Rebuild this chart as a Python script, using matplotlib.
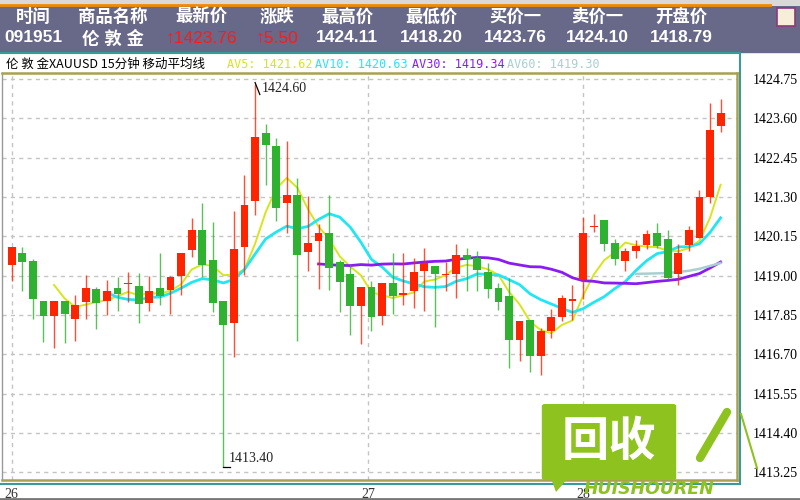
"""
伦敦金 XAUUSD 15分钟 K线 + 移动平均线 (recreated screenshot).
"""
import matplotlib
matplotlib.use('Agg')
import numpy as np
import pandas as pd
import matplotlib.pyplot as plt
from matplotlib.patches import Rectangle, FancyBboxPatch, Polygon
from matplotlib.lines import Line2D

CJK = ['Noto Sans CJK SC', 'DejaVu Sans']

# header quote table
HEAD_LABELS = ['时间', '商品名称', '最新价', '涨跌', '最高价', '最低价', '买价一', '卖价一', '开盘价']
HEAD_VALUES = ['091951', '伦 敦 金', '↑1423.76', '↑5.50', '1424.11', '1418.20', '1423.76', '1424.10', '1418.79']
HEAD_RED = [False, False, True, True, False, False, False, False, False]

# 15-minute candles
OPEN = [1419.30, 1419.66, 1419.43, 1418.26, 1417.82, 1418.26, 1417.74, 1418.24, 1418.60, 1418.26,
        1418.63, 1418.75, 1418.71, 1418.19, 1418.63, 1418.58, 1418.99, 1419.75, 1420.34, 1419.46,
        1418.26, 1417.61, 1419.85, 1421.19, 1423.17, 1422.80, 1421.12, 1421.37, 1419.68, 1420.02,
        1420.26, 1419.39, 1419.04, 1418.10, 1418.68, 1417.83, 1418.78, 1418.42, 1418.54, 1419.14,
        1419.27, 1419.02, 1419.04, 1419.61, 1419.53, 1419.12, 1418.63, 1418.39, 1417.12, 1417.69,
        1416.65, 1417.37, 1417.78, 1418.27, 1418.88, 1420.42, 1420.63, 1419.95, 1419.43, 1419.71,
        1419.90, 1420.26, 1420.08, 1419.04, 1419.90, 1420.10, 1421.30, 1423.38]
HIGH = [1419.85, 1419.85, 1419.48, 1418.26, 1418.26, 1418.26, 1418.42, 1419.02, 1418.68, 1418.88,
        1418.95, 1419.12, 1419.09, 1418.99, 1419.66, 1418.99, 1419.66, 1420.68, 1421.14, 1420.58,
        1418.26, 1420.88, 1421.95, 1424.60, 1423.43, 1423.02, 1422.95, 1421.85, 1421.32, 1420.51,
        1421.37, 1419.46, 1419.31, 1418.68, 1418.83, 1418.78, 1419.66, 1419.66, 1419.53, 1419.82,
        1419.27, 1419.41, 1419.92, 1419.80, 1419.73, 1419.37, 1418.78, 1418.93, 1417.66, 1417.69,
        1417.48, 1418.03, 1418.42, 1418.72, 1420.71, 1420.80, 1420.63, 1420.07, 1419.82, 1420.03,
        1420.34, 1420.54, 1420.34, 1419.92, 1420.44, 1421.51, 1424.05, 1424.17]
LOW = [1418.83, 1418.56, 1417.74, 1417.05, 1416.88, 1417.02, 1417.09, 1417.74, 1417.44, 1417.85,
       1417.97, 1418.24, 1417.61, 1417.97, 1418.15, 1417.87, 1418.42, 1419.56, 1418.97, 1417.93,
       1413.40, 1416.63, 1419.02, 1420.78, 1421.64, 1420.61, 1420.24, 1417.10, 1419.14, 1418.61,
       1418.58, 1417.93, 1417.25, 1416.99, 1417.39, 1417.56, 1417.87, 1418.15, 1418.05, 1417.97,
       1417.51, 1418.56, 1418.36, 1418.56, 1418.54, 1418.36, 1418.00, 1416.29, 1416.49, 1416.17,
       1416.10, 1417.17, 1417.66, 1417.71, 1418.32, 1420.29, 1419.71, 1419.30, 1419.14, 1419.53,
       1419.78, 1419.80, 1418.91, 1418.73, 1419.71, 1420.10, 1421.12, 1423.20]
CLOSE = [1419.85, 1419.39, 1418.31, 1417.82, 1418.26, 1417.88, 1418.15, 1418.65, 1418.19, 1418.55,
         1418.46, 1418.77, 1418.16, 1418.55, 1418.39, 1418.95, 1419.66, 1420.34, 1419.30, 1418.19,
         1417.56, 1419.78, 1421.07, 1423.07, 1422.81, 1420.99, 1421.37, 1419.61, 1419.95, 1420.24,
         1419.22, 1418.81, 1418.10, 1418.68, 1417.78, 1418.78, 1418.39, 1418.49, 1419.12, 1419.37,
         1419.05, 1419.05, 1419.61, 1419.49, 1419.17, 1418.61, 1418.24, 1417.12, 1417.66, 1416.65,
         1417.37, 1417.78, 1418.34, 1418.30, 1420.26, 1420.44, 1419.93, 1419.48, 1419.73, 1419.88,
         1420.21, 1419.88, 1418.93, 1419.66, 1420.34, 1421.29, 1423.25, 1423.76]

MA_PERIODS = [5, 10, 30, 60]
MA_COLORS = ['#d6e61a', '#22e6f2', '#8a1cf0', '#a9cfd2']
MA_WIDTHS = [1.4, 2.0, 2.0, 1.8]
MA_LABELS = ['AV5: 1421.62', 'AV10: 1420.63', 'AV30: 1419.34', 'AV60: 1419.30']

Y_TICKS = [1424.75, 1423.60, 1422.45, 1421.30, 1420.15, 1419.00,
           1417.85, 1416.70, 1415.55, 1414.40, 1413.25]
DAY_POS = [0, 33.7, 54]
DAY_LABELS = ['26', '27', '28']

UP = '#ff2400'
DOWN = '#2fb22f'


def fx(x):
    return x / 800


def fy(y):
    return 1 - y / 500


def draw_header(fig):
    fig.patches.append(Rectangle((0, fy(4)), 1, 4 / 500, transform=fig.transFigure,
                                 color='#d9d9d9', zorder=0))
    fig.add_artist(Line2D([0, fx(770)], [fy(5), fy(5)], color='#f08a00', lw=2))
    fig.patches.append(Rectangle((0, fy(52)), 1, 46 / 500, transform=fig.transFigure,
                                 color='#686888', zorder=0))
    fig.patches.append(Rectangle((fx(777), fy(26)), 18 / 800, 18 / 500, transform=fig.transFigure,
                                 facecolor='#f6eed8', edgecolor='#8a3a7a', lw=1.2, zorder=1))
    centers = [33, 113, 201, 277, 347, 431, 515, 597, 681]
    for cx, lab, val, red in zip(centers, HEAD_LABELS, HEAD_VALUES, HEAD_RED):
        fig.text(fx(cx), fy(17), lab, family=CJK, fontsize=12.5, fontweight='bold',
                 color='white', ha='center', va='center')
        fig.text(fx(cx), fy(38), val, family=['Liberation Sans'] + CJK, fontsize=12.5,
                 fontweight='normal' if red else 'bold',
                 color='#ff1a1a' if red else 'white', ha='center', va='center')

    # title row
    fig.add_artist(Line2D([0, fx(740)], [fy(53), fy(53)], color='#3a9a9a', lw=1.5))
    fig.text(fx(6), fy(64), '伦 敦 金XAUUSD 15分钟 移动平均线', family=CJK, fontsize=9,
             color='black', va='center')
    for x0, lab, col in zip([227, 315, 412, 507], MA_LABELS, MA_COLORS):
        fig.text(fx(x0), fy(64), lab, family='DejaVu Sans Mono', fontsize=8.5,
                 color=col, va='center')


def draw_logo(fig):
    green = '#8dc21f'
    box = FancyBboxPatch((fx(545), fy(478)), 128 / 800, 72 / 500, transform=fig.transFigure,
                         boxstyle='round,pad=0.004', facecolor=green, edgecolor='none', zorder=20)
    fig.patches.append(box)
    tail = Polygon([(fx(548), fy(470)), (fx(575), fy(470)), (fx(556), fy(492))],
                   closed=True, transform=fig.transFigure, facecolor=green, zorder=20)
    fig.patches.append(tail)
    fig.text(fx(609), fy(442), '回收', family=CJK, fontsize=34, fontweight='bold',
             color='white', ha='center', va='center', zorder=21)
    fig.text(fx(649), fy(489), 'HUISHOUREN', family='DejaVu Sans', fontsize=12.5,
             fontweight='bold', style='italic', color=green, ha='center', va='center', zorder=21)
    fig.add_artist(Line2D([fx(700), fx(727)], [fy(458), fy(412)], color=green, lw=6,
                          solid_capstyle='round', zorder=20))
    fig.add_artist(Line2D([fx(741), fx(757)], [fy(414), fy(468)], color=green, lw=1.5, zorder=20))


def generate(output_path='out.png'):
    fig = plt.figure(figsize=(8, 5), dpi=100)
    fig.patch.set_facecolor('white')
    draw_header(fig)

    ax = fig.add_axes([fx(2), fy(480), 735 / 800, 407 / 500])
    ax.set_facecolor('white')

    o = np.array(OPEN)
    h = np.array(HIGH)
    l = np.array(LOW)
    c = np.array(CLOSE)
    idx = np.arange(len(c))

    # moving averages
    closes = pd.Series(c)
    for n, col, lw in zip(MA_PERIODS, MA_COLORS, MA_WIDTHS):
        ax.plot(idx, closes.rolling(n).mean(), color=col, lw=lw, zorder=2)

    # candles
    up = c >= o
    colors = np.where(up, UP, DOWN)
    ax.vlines(idx, l, h, colors=colors, lw=1.0, alpha=0.8, zorder=3)
    body_lo = np.minimum(o, c)
    body_h = np.maximum(np.abs(c - o), 0.035)
    ax.bar(idx, body_h, bottom=body_lo, width=0.74, color=colors, linewidth=0, zorder=4)

    # high / low markers
    hi = int(np.argmax(h))
    lo = int(np.argmin(l))
    ax.plot([hi, hi + 0.45], [h[hi] + 0.05, h[hi] - 0.3], color='black', lw=0.9, zorder=5)
    ax.text(hi + 0.6, h[hi] - 0.13, f'{h[hi]:.2f}', family='Liberation Serif', fontsize=10,
            color='#222222', va='center', zorder=5)
    ax.plot([lo, lo + 0.6], [l[lo], l[lo]], color='black', lw=0.9, zorder=5)
    ax.text(lo + 0.5, l[lo] + 0.05, f'{l[lo]:.2f}', family='Liberation Serif', fontsize=10,
            color='#222222', va='bottom', zorder=5)

    ax.set_xlim(-0.92, 68.55)
    ax.set_ylim(1413.02, 1424.93)
    ax.set_yticks(Y_TICKS)
    ax.set_yticklabels([f'{v:.2f}' for v in Y_TICKS], family='Liberation Serif', fontsize=10)
    ax.yaxis.tick_right()
    ax.set_xticks(DAY_POS)
    ax.set_xticklabels(DAY_LABELS, family='Liberation Serif', fontsize=10, color='#333333')
    ax.tick_params(axis='y', length=0, pad=11)
    ax.tick_params(axis='x', length=0, pad=6)
    ax.grid(True, color='#c4c4c4', linestyle=(0, (3, 3)), lw=1.0, zorder=0)
    ax.set_axisbelow(True)
    for side in ['top', 'right', 'bottom']:
        ax.spines[side].set_color('#aaa050')
        ax.spines[side].set_linewidth(1.8)
    ax.spines['left'].set_color('#999999')
    ax.spines['left'].set_linewidth(1.0)

    # frame lines around the chart panel
    fig.add_artist(Line2D([0, fx(740)], [fy(483.5), fy(483.5)], color='#3a9a9a', lw=1.5))
    fig.add_artist(Line2D([fx(740), fx(740)], [fy(53), fy(483.5)], color='#3a9a9a', lw=1.5))
    fig.add_artist(Line2D([0, 1], [fy(498.5), fy(498.5)], color='#777777', lw=2))

    draw_logo(fig)

    fig.savefig(output_path, dpi=100)
    plt.close(fig)
    return output_path


if __name__ == '__main__':
    generate()
